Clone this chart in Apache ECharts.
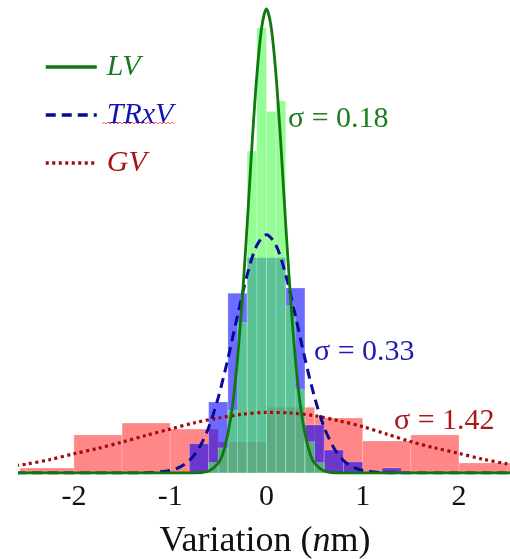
<!DOCTYPE html>
<html>
<head>
<meta charset="utf-8">
<script src="https://cdn.jsdelivr.net/npm/echarts@6/dist/echarts.min.js"></script>
<style>
  html, body { margin: 0; padding: 0; background: #fff; }
  #chart { width: 510px; height: 559px; }
</style>
</head>
<body>
<div id="chart"></div>
<script>
// x axis tick labels
const xTicks = [-2, -1, 0, 1, 2];

// histograms: bin edges and heights (density)
const gvEdges = [-3, -2.5, -2, -1.5, -1, -0.5, 0, 0.5, 1, 1.5, 2, 2.5, 3];
const gvHeights = [0.024, 0.024, 0.182, 0.239, 0.21, 0.148, 0.315, 0.263, 0.153, 0.182, 0.048, 0.048];

const trxvEdges = [-1.0, -0.8, -0.6, -0.4, -0.2, 0, 0.2, 0.4, 0.6, 0.8, 1.0, 1.2, 1.4];
const trxvHeights = [0, 0.14, 0.34, 0.86, 1.03, 1.03, 0.885, 0.23, 0.11, 0.053, 0, 0.024];

const lvEdges = [-0.6, -0.5, -0.4, -0.3, -0.2, -0.1, 0, 0.1, 0.2, 0.3, 0.4, 0.5, 0.6];
const lvHeights = [0.05, 0.12, 0.3, 0.72, 1.54, 2.13, 1.73, 1.78, 0.8, 0.4, 0.15, 0.05];

// fitted curves
const lvX = [-2.6, -0.8, -0.7, -0.6, -0.5, -0.45, -0.4, -0.35, -0.3, -0.25, -0.2, -0.15, -0.1, -0.05, 0,
  0.05, 0.1, 0.15, 0.2, 0.25, 0.3, 0.35, 0.4, 0.45, 0.5, 0.6, 0.7, 0.8, 2.6];
const lvY = [0, 0, 0.001, 0.009, 0.047, 0.097, 0.19, 0.33, 0.55, 0.84, 1.19, 1.57, 1.9, 2.13, 2.22,
  2.13, 1.9, 1.57, 1.19, 0.84, 0.55, 0.33, 0.19, 0.097, 0.047, 0.009, 0.001, 0, 0];

const trxvX = [-2.6, -1.4, -1.2, -1.0, -0.9, -0.8, -0.7, -0.6, -0.5, -0.4, -0.3, -0.2, -0.1, 0,
  0.1, 0.2, 0.3, 0.4, 0.5, 0.6, 0.7, 0.8, 0.9, 1.0, 1.2, 1.4, 2.6];
const trxvY = [0, 0, 0.002, 0.012, 0.028, 0.06, 0.12, 0.218, 0.362, 0.547, 0.754, 0.949, 1.089, 1.14,
  1.089, 0.949, 0.754, 0.547, 0.362, 0.218, 0.12, 0.06, 0.028, 0.012, 0.002, 0, 0];

const gvX = [-2.6, -2.5, -2.25, -2, -1.75, -1.5, -1.25, -1, -0.75, -0.5, -0.25, 0,
  0.25, 0.5, 0.75, 1, 1.25, 1.5, 1.75, 2, 2.25, 2.5, 2.6];
const gvY = [0.036, 0.042, 0.064, 0.092, 0.118, 0.148, 0.18, 0.21, 0.24, 0.263, 0.281, 0.29,
  0.287, 0.274, 0.25, 0.222, 0.186, 0.15, 0.12, 0.094, 0.066, 0.044, 0.038];

const serif = "'Liberation Serif', 'DejaVu Serif', serif";

function bins(edges, heights) {
  return heights.map((h, i) => [edges[i], edges[i + 1], h]);
}

function pairs(xs, ys) {
  return xs.map((x, i) => [x, ys[i]]);
}

function histRender(fill) {
  return function (params, api) {
    const top = api.coord([api.value(0), api.value(2)]);
    const bot = api.coord([api.value(1), 0]);
    const shape = echarts.graphic.clipRectByRect(
      { x: top[0], y: top[1], width: bot[0] - top[0], height: bot[1] - top[1] },
      { x: params.coordSys.x, y: params.coordSys.y, width: params.coordSys.width, height: params.coordSys.height }
    );
    if (!shape) return;
    return {
      type: "rect",
      shape: shape,
      style: { fill: fill, stroke: "rgba(255,255,255,0.3)", lineWidth: 0.8 }
    };
  };
}

// red wavy underline under TRxV (spell-check squiggle)
const squiggle = [];
for (let x = 102; x <= 175; x += 2) {
  squiggle.push([x, 123 + ((x / 2) % 2 === 0 ? -1 : 1)]);
}

const chart = echarts.init(document.getElementById("chart"));
chart.setOption({
  animation: false,
  backgroundColor: "#fff",
  grid: { left: 20, right: 0, top: 0, bottom: 86, outerBoundsMode: "none" },
  legend: {
    orient: "vertical",
    left: 39,
    top: 47,
    itemWidth: 51,
    itemHeight: 14,
    itemGap: 18,
    itemStyle: { opacity: 0 },
    lineStyle: { width: 3.5 },
    textStyle: {
      fontFamily: serif,
      fontStyle: "italic",
      fontSize: 30,
      padding: [0, 0, 0, 5]
    },
    data: [
      { name: "LV", textStyle: { color: "#1a7a1a" } },
      { name: "TRxV", textStyle: { color: "#1414b4" } },
      { name: "GV", textStyle: { color: "#aa1414" } }
    ]
  },
  xAxis: {
    type: "value",
    min: -2.56,
    max: 2.53,
    axisLine: { show: false },
    axisTick: { show: false },
    splitLine: { show: false },
    axisLabel: {
      customValues: xTicks,
      fontFamily: serif,
      fontSize: 30,
      color: "#111",
      margin: 9
    },
    name: "Variation ({i|n}m)",
    nameLocation: "middle",
    nameGap: 51,
    nameTextStyle: {
      fontFamily: serif,
      fontSize: 36,
      color: "#111",
      rich: {
        i: { fontFamily: serif, fontSize: 36, fontStyle: "italic", color: "#111" }
      }
    }
  },
  yAxis: {
    type: "value",
    min: 0,
    max: 2.263,
    show: false
  },
  graphic: [
    {
      type: "text", left: 288, top: 104,
      style: { text: "σ = 0.18", fill: "#1e7d1e", font: "30px " + serif }
    },
    {
      type: "text", left: 314, top: 337,
      style: { text: "σ = 0.33", fill: "#1c1cb4", font: "30px " + serif }
    },
    {
      type: "text", left: 394, top: 406,
      style: { text: "σ = 1.42", fill: "#a81818", font: "30px " + serif }
    },
    {
      type: "polyline",
      shape: { points: squiggle },
      style: { stroke: "#ff5a5a", lineWidth: 1, fill: null }
    }
  ],
  series: [
    {
      name: "GV hist",
      type: "custom",
      renderItem: histRender("rgba(255,0,0,0.47)"),
      encode: { x: [0, 1], y: 2 },
      data: bins(gvEdges, gvHeights),
      z: 1
    },
    {
      name: "TRxV hist",
      type: "custom",
      renderItem: histRender("rgba(0,0,255,0.58)"),
      encode: { x: [0, 1], y: 2 },
      data: bins(trxvEdges, trxvHeights),
      z: 2
    },
    {
      name: "LV hist",
      type: "custom",
      renderItem: histRender("rgba(80,250,80,0.6)"),
      encode: { x: [0, 1], y: 2 },
      data: bins(lvEdges, lvHeights),
      z: 3
    },
    {
      name: "GV",
      type: "line",
      data: pairs(gvX, gvY),
      showSymbol: false,
      symbol: "none",
      smooth: 0.3,
      color: "#a00a0a",
      lineStyle: { color: "#a00a0a", width: 3.2, type: [3, 3.5] },
      z: 4
    },
    {
      name: "TRxV",
      type: "line",
      data: pairs(trxvX, trxvY),
      showSymbol: false,
      symbol: "none",
      smooth: 0.3,
      color: "#0a0a9a",
      lineStyle: { color: "#0a0a9a", width: 3, type: [10, 6] },
      z: 5
    },
    {
      name: "LV",
      type: "line",
      data: pairs(lvX, lvY),
      showSymbol: false,
      symbol: "none",
      smooth: 0.3,
      color: "#0f780f",
      lineStyle: { color: "#0f780f", width: 2.8 },
      z: 6
    }
  ]
});
</script>
</body>
</html>
